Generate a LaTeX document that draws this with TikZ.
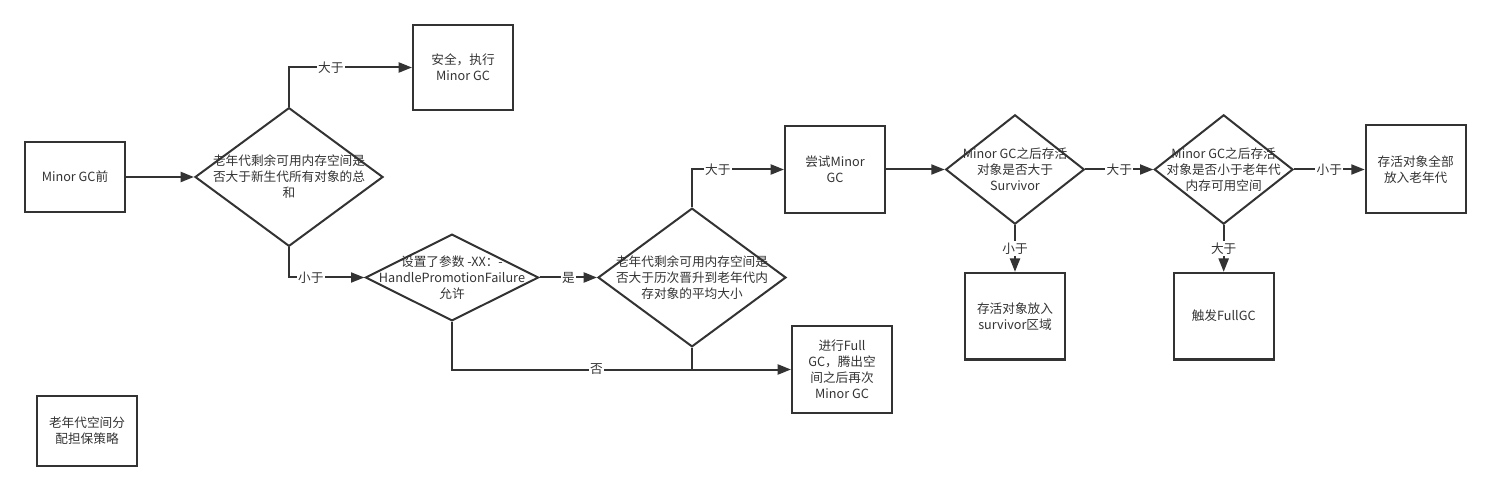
\documentclass[tikz,border=0pt]{standalone}
\usepackage{fontspec}
\setmainfont{Noto Sans CJK SC}
\usepackage{tikz}
\usetikzlibrary{arrows.meta}
\usetikzlibrary{shapes.geometric}
\usetikzlibrary{positioning}

\definecolor{flowgray}{HTML}{333333}
\newcommand{\flowfont}{\fontsize{9.5pt}{12pt}\selectfont}

\tikzset{
  procbox/.style={draw=flowgray, line width=1.5pt, minimum width=75pt, minimum height=65pt, align=center, text=flowgray, font=\flowfont},
  decision/.style={diamond, draw=flowgray, line width=1.5pt, inner sep=0pt},
  decisiontext/.style={align=center, text=flowgray, font=\flowfont},
  flow/.style={-{Triangle[length=10pt,width=7.5pt]}, line width=1.5pt, draw=flowgray},
  cond/.style={fill=white, inner sep=1pt, text=flowgray, font=\flowfont}
}

\begin{document}
\begin{tikzpicture}[x=0.75pt, y=-0.75pt]
  \useasboundingbox (0,0) rectangle (1491,491);

  \node (before) [procbox, minimum height=52.5pt] at (75,177) {Minor GC前};
  \node (legend) [procbox, minimum height=52.5pt] at (87,431) {老年代空间分\\配担保策略};

  \node (oldfree) [decision, minimum width=141pt, minimum height=104pt,
    label={[decisiontext]center:老年代剩余可用内存空间是\\否大于新生代所有对象的总\\和}] at (289,177) {};
  \node (safe) [procbox, minimum height=64pt] at (463,67.5) {安全，执行\\Minor GC};

  \node (handle) [decision, minimum width=130pt, minimum height=65pt,
    label={[decisiontext]center:设置了参数 -XX：-\\HandlePromotionFailure\\允许}] at (452,277.5) {};
  \node (avgsize) [decision, minimum width=141pt, minimum height=104pt,
    label={[decisiontext]center:老年代剩余可用内存空间是\\否大于历次晋升到老年代内\\存对象的平均大小}] at (692,277.5) {};

  \node (tryminor) at (835,169.5) [procbox] {尝试Minor\\GC};
  \node (fullgc) at (842,369.5) [procbox] {进行Full\\GC，腾出空\\间之后再次\\Minor GC};

  \node (survcheck) [decision, minimum width=104pt, minimum height=82pt, right=44pt of tryminor,
    label={[decisiontext]center:Minor GC之后存活\\对象是否大于\\Survivor}] {};
  \node (oldcheck) [decision, minimum width=104pt, minimum height=82pt, right=51pt of survcheck,
    label={[decisiontext]center:Minor GC之后存活\\对象是否小于老年代\\内存可用空间}] {};
  \node (allold) [procbox, minimum height=66pt, right=53pt of oldcheck] {存活对象全部\\放入老年代};

  \node (tosurv) [procbox, below=35pt of survcheck] {存活对象放入\\survivor区域};
  \node (trigger) [procbox, below=35pt of oldcheck] {触发FullGC};

  \draw [flow] (before) -- (oldfree);
  \draw [flow] (oldfree.north) |- node [cond, pos=0.67] {大于} (safe.west);
  \draw [flow] (oldfree.south) |- node [cond, pos=0.645] {小于} (handle.west);
  \draw [flow] (handle.east) -- node [cond, midway] {是} (avgsize.west);
  \draw [flow] (avgsize.north) |- node [cond, pos=0.64] {大于} (tryminor.west);
  \draw [flow] (handle.south) |- node [cond, pos=0.713] {否} (fullgc.west);
  \draw [line width=1.5pt, draw=flowgray] (avgsize.south) -- (avgsize.south |- fullgc.west);
  \draw [flow] (tryminor.east) -- (survcheck.west);
  \draw [flow] (survcheck.east) -- node [cond, midway] {大于} (oldcheck.west);
  \draw [flow] (oldcheck.east) -- node [cond, midway] {小于} (allold.west);
  \draw [flow] (survcheck.south) -- node [cond, midway] {小于} (tosurv.north);
  \draw [flow] (oldcheck.south) -- node [cond, midway] {大于} (trigger.north);
\end{tikzpicture}
\end{document}
